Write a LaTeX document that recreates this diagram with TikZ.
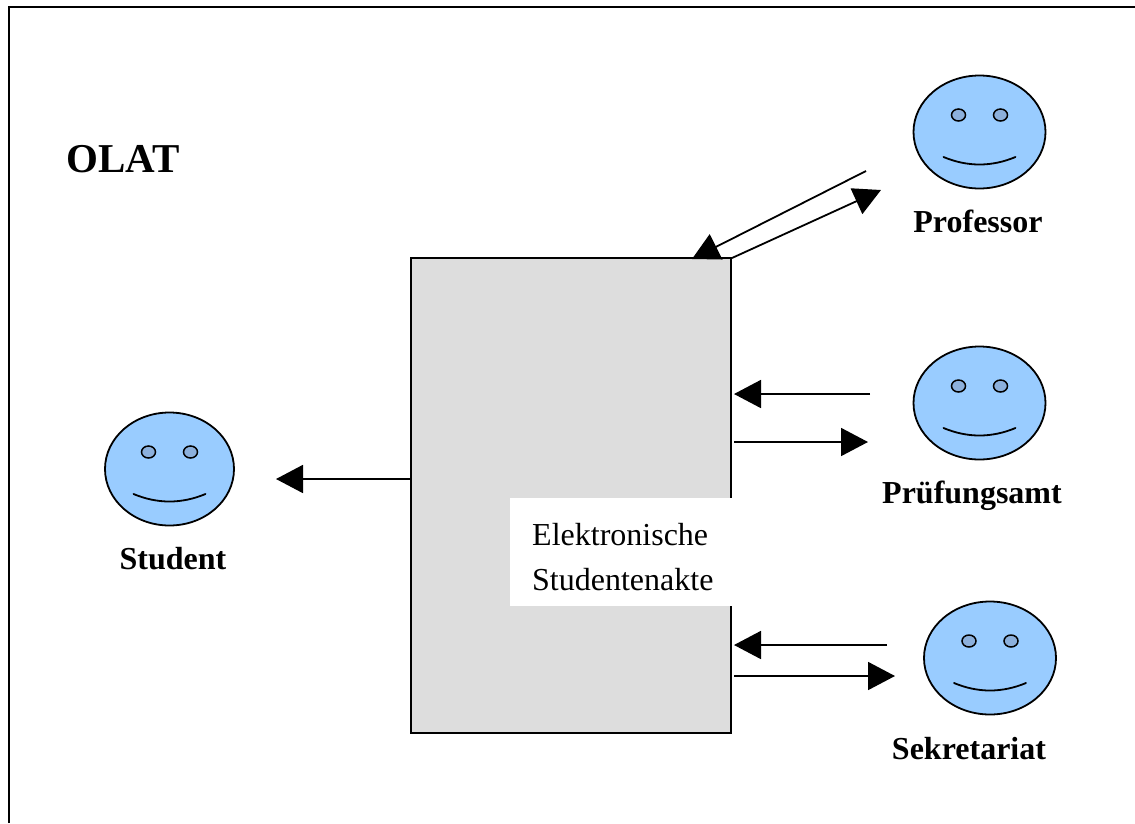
\documentclass[tikz,border=0pt]{standalone}
\usepackage{fontspec}
\setmainfont{Liberation Serif}
\usetikzlibrary{arrows.meta,calc,shapes.geometric}
\definecolor{facefill}{HTML}{99CCFF}
\definecolor{eyefill}{HTML}{8CB0DC}
\definecolor{boxfill}{HTML}{DDDDDD}
\tikzset{
  facebody/.style={draw=black,line width=1.8pt,fill=facefill,ellipse,inner sep=0pt,minimum width=132pt,minimum height=113pt},
  eye/.style={draw=black,line width=1.5pt,fill=eyefill,ellipse,inner sep=0pt,minimum width=14pt,minimum height=12pt},
  who/.style={font=\fontsize{32}{36}\selectfont\bfseries,inner sep=0pt,anchor=base},
  akttext/.style={font=\fontsize{32}{44}\selectfont,inner sep=0pt,anchor=base west},
  flow/.style={line width=1.8pt,-{Triangle[length=27pt,width=28pt]}},
  mouth/.style={line width=1.8pt,line cap=round}
}
\newcommand{\smiley}[4][132pt]{%
  \node[facebody,minimum width=#1] (#2) at (#3,#4) {};
  \node[eye] (#2L) at ($(#3,#4)+(-21,-17)$) {};
  \node[eye] (#2R) at ($(#3,#4)+(21,-17)$) {};
  \draw[mouth] ($(#3,#4)+(-36,25)$) .. controls ($(#3,#4)+(-12,35)$) and ($(#3,#4)+(12,35)$) .. ($(#3,#4)+(36,25)$);
}
\begin{document}
\begin{tikzpicture}[x=1pt,y=-1pt]
\useasboundingbox (0,0) rectangle (1135,823);
\fill[white] (0,0) rectangle (1135,823);
\coordinate (fl) at (9,823);
\coordinate (ftl) at (9,7);
\coordinate (ftr) at (1135,7);
\draw[line width=2pt] (fl) -- (ftl) -- (ftr);

\node[draw=black,line width=1.9pt,fill=boxfill,minimum width=320pt,minimum height=475pt,inner sep=0pt,anchor=north west] (akte) at (410.3,257.3) {};
\node[fill=white,minimum width=223pt,minimum height=108pt,inner sep=0pt,anchor=north west] (aktelabel) at (510,498) {};
\node[akttext] (t1) at (532,545) {Elektronische};
\node[akttext] (t2) at (532,590) {Studentenakte};

\node[font=\fontsize{41}{44}\selectfont\bfseries,inner sep=0pt,anchor=base west] (olat) at (66,172) {OLAT};

\smiley{prof}{979.5}{132}
\smiley{pruef}{979.5}{403}
\smiley{sek}{990}{658}
\smiley[129pt]{stud}{169.5}{469}

\node[who] (lprof) at (978,232) {Professor};
\node[who] (lpruef) at (972,503) {Prüfungsamt};
\node[who] (lsek) at (969,759) {Sekretariat};
\node[who] (lstud) at (173,569) {Student};

\coordinate (a1s) at (866,171);
\coordinate (a1e) at (692,259);
\coordinate (a2s) at (732,258);
\coordinate (a2e) at (881,190);
\coordinate (a3s) at (870,394);
\coordinate (a3e) at (734,394);
\coordinate (a4s) at (734,442);
\coordinate (a4e) at (868,442);
\coordinate (a5s) at (887,645);
\coordinate (a5e) at (734,645);
\coordinate (a6s) at (734,676);
\coordinate (a6e) at (895,676);
\coordinate (a7s) at (411,479);
\coordinate (a7e) at (276,479);
\draw[flow] (a1s) -- (a1e);
\draw[flow] (a2s) -- (a2e);
\draw[flow] (a3s) -- (a3e);
\draw[flow] (a4s) -- (a4e);
\draw[flow] (a5s) -- (a5e);
\draw[flow] (a6s) -- (a6e);
\draw[flow] (a7s) -- (a7e);
\end{tikzpicture}
\end{document}
